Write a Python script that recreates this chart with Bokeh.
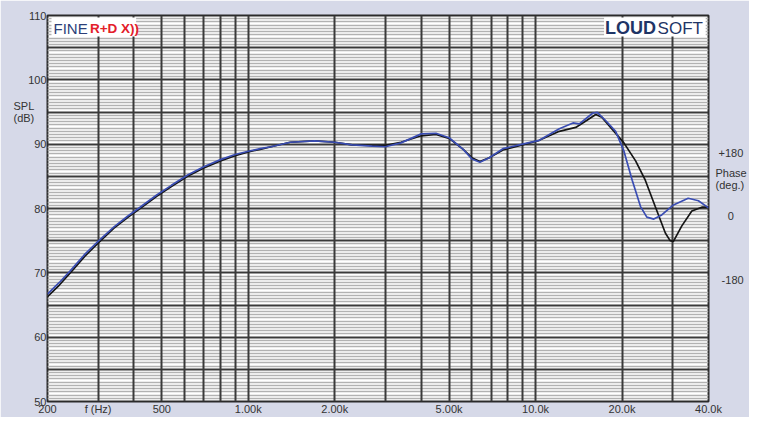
from bokeh.plotting import figure
from bokeh.models import FixedTicker, Grid, Label, Range1d, LinearAxis
from bokeh.embed import file_html
from bokeh.resources import INLINE

# ---- data ----
black_freq = [200, 220, 240, 270, 300, 340, 380, 420, 480, 540, 615, 700, 800, 900,
              1000, 1100, 1200, 1400, 1700, 2000, 2300, 2700, 3000, 3400, 4000, 4500,
              5000, 5600, 6000, 6400, 6900, 7700, 9000, 10300, 12100, 13800, 14600,
              16200, 17000, 18500, 20300, 22300, 24100, 26100, 28300, 29400, 30200,
              32300, 35000, 37900, 40000]
black_spl = [66.3, 68.1, 70.0, 72.6, 74.6, 76.9, 78.6, 80.0, 81.9, 83.4, 85.0, 86.3, 87.4, 88.2,
             88.8, 89.2, 89.6, 90.3, 90.5, 90.3, 89.9, 89.8, 89.8, 90.3, 91.3, 91.5,
             90.9, 89.2, 87.9, 87.3, 87.9, 89.1, 89.9, 90.6, 92.0, 92.6, 93.3,
             94.6, 94.2, 92.3, 90.2, 87.4, 84.4, 80.3, 76.2, 75.0, 74.9,
             77.3, 79.6, 80.2, 80.2]

blue_freq = [200, 220, 240, 270, 300, 340, 380, 420, 480, 540, 615, 700, 800, 900,
             1000, 1100, 1200, 1400, 1700, 2000, 2300, 2700, 3000, 3400, 4000, 4500,
             5000, 5600, 6000, 6400, 6900, 7700, 9000, 10300, 12100, 13500, 14200,
             15800, 16400, 17600, 19000, 20300, 21700, 23200, 24400, 25800, 27500,
             30200, 34000, 36900, 40000]
blue_spl = [66.7, 68.5, 70.3, 72.9, 74.9, 77.1, 78.8, 80.2, 82.1, 83.6, 85.2, 86.5, 87.6, 88.4,
            88.9, 89.3, 89.6, 90.3, 90.5, 90.3, 89.9, 89.7, 89.6, 90.2, 91.6, 91.7,
            91.0, 89.2, 87.7, 87.2, 87.9, 89.3, 90.0, 90.6, 92.4, 93.3, 93.15,
            94.8, 94.95, 93.6, 92.0, 88.95, 84.4, 80.3, 78.65, 78.35, 79.0,
            80.55, 81.6, 81.2, 80.1]

x_ticks = [200, 300, 500, 1000, 2000, 5000, 10000, 20000, 40000]
x_tick_labels = ["200", "f (Hz)", "500", "1.00k", "2.00k", "5.00k", "10.0k", "20.0k", "40.0k"]
y_ticks = [50, 60, 70, 80, 90, 100, 110]
y_tick_labels = ["50", "60", "70", "80", "90", "100", "110"]
phase_ticks = [180, 0, -180]
phase_tick_labels = ["+180", "0", "-180"]

NB = "\u00a0"
# axis titles, placed as extra tick labels
spl_title = {95.93: "SPL" + NB * 4, 94.07: "(dB)" + NB * 4}
phase_title = {124: "Phase", 90: "(deg.)"}

# ---- styling ----
FONT = "Liberation Sans"
BG = "#d6d9e8"
DARK = "#3a3a3a"
TXT = "#333333"

p = figure(width=749, height=417, x_axis_type="log",
           x_range=Range1d(200, 40000), y_range=Range1d(50, 110),
           output_backend="svg", toolbar_location=None,
           min_border_left=47, min_border_right=38, min_border_top=15, min_border_bottom=14)
p.extra_y_ranges = {"phase": Range1d(-522.9, 568.0)}
p.background_fill_color = "white"
p.border_fill_color = BG
p.outline_line_color = "#2a2a2a"
p.outline_line_width = 2
p.xgrid.visible = False
p.ygrid.visible = False

# grid lines
v_lines = [m * d for d in (100, 1000, 10000) for m in range(1, 10) if 200 <= m * d <= 40000]
minor_h = [50 + 0.5 * i for i in range(121) if (0.5 * i) % 5 != 0]
major_h = list(range(50, 111, 5))
p.add_layout(Grid(dimension=1, ticker=FixedTicker(ticks=minor_h),
                  grid_line_color="#b2b2b2", grid_line_width=1.3))
p.add_layout(Grid(dimension=1, ticker=FixedTicker(ticks=major_h),
                  grid_line_color=DARK, grid_line_width=2))
p.add_layout(Grid(dimension=0, ticker=FixedTicker(ticks=v_lines),
                  grid_line_color=DARK, grid_line_width=2))

# axes
p.xaxis.ticker = FixedTicker(ticks=x_ticks)
p.xaxis.major_label_overrides = dict(zip(x_ticks, x_tick_labels))
p.yaxis.ticker = FixedTicker(ticks=y_ticks + list(spl_title.keys()))
ov = dict(zip(y_ticks, y_tick_labels))
ov.update(spl_title)
p.yaxis.major_label_overrides = ov

right = LinearAxis(y_range_name="phase",
                   ticker=FixedTicker(ticks=phase_ticks + list(phase_title.keys())))
rov = dict(zip(phase_ticks, [NB + phase_tick_labels[0], NB * 4 + phase_tick_labels[1],
                             NB * 2 + phase_tick_labels[2]]))
rov.update(phase_title)
right.major_label_overrides = rov
p.add_layout(right, "right")

for ax in (p.xaxis[0], p.yaxis[0], right):
    ax.axis_line_color = None
    ax.major_tick_line_color = None
    ax.minor_tick_line_color = None
    ax.major_tick_out = 0
    ax.major_tick_in = 0
    ax.minor_tick_out = 0
    ax.minor_tick_in = 0
    ax.major_label_text_font = FONT
    ax.major_label_text_font_size = "11px"
    ax.major_label_text_color = TXT
p.xaxis.major_label_standoff = 1
p.yaxis[0].major_label_standoff = 1
right.major_label_standoff = 7

# logo boxes (white behind text)
p.quad(left=[206.5], right=[406.9], bottom=[106.75], top=[109.69],
       fill_color="white", line_color=None)
p.quad(left=[17320], right=[39110], bottom=[106.75], top=[109.69],
       fill_color="white", line_color=None)

# curves
p.line(black_freq, black_spl, line_color="#151515", line_width=1.7)
p.line(blue_freq, blue_spl, line_color="#3a4db3", line_width=1.7)

# logos
p.add_layout(Label(x=209.8, y=108.0, text="FINE", text_font=FONT, text_font_size="15px",
                   text_color="#2c3f78", text_baseline="middle"))
p.add_layout(Label(x=281, y=108.0, text="R+D X))", text_font=FONT, text_font_size="13.5px",
                   text_font_style="bold", text_color="#e3202a", text_baseline="middle"))
p.add_layout(Label(x=17450, y=108.0, text="LOUD", text_font=FONT, text_font_size="18px",
                   text_font_style="bold", text_color="#1f3566", text_baseline="middle"))
p.add_layout(Label(x=26600, y=108.0, text="SOFT", text_font=FONT, text_font_size="17px",
                   text_color="#1f3566", text_baseline="middle"))

open("out.html", "w").write(file_html(p, INLINE))
